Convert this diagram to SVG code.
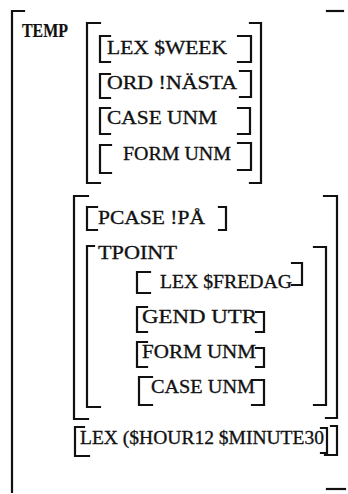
<svg xmlns="http://www.w3.org/2000/svg" width="348" height="494" viewBox="0 0 348 494">
<style>
.b{fill:none;stroke:#111;stroke-width:2.2;stroke-linecap:square}
text{font-family:"Liberation Serif","Times New Roman",serif;fill:#111;stroke:#111;stroke-width:0.3;font-size:18px}
.h{font-size:19px;font-weight:bold;stroke-width:0.2}
</style>
<rect width="348" height="494" fill="#fff"/>
<g id="connectors"/>
<g id="temp">
<path class="b" d="M24,11 H12 V492"/>
<path class="b" d="M327,11 H343"/>
<path class="b" d="M327,489 H345"/>
<text class="h" x="22" y="37" textLength="46" lengthAdjust="spacingAndGlyphs">TEMP</text>
</g>
<g id="group1">
<path class="b" d="M100,23 H87 V183 H100"/>
<path class="b" d="M250,23 H261 V183 H250"/>
</g>
<g id="lex-week">
<path class="b" d="M110,36 H100 V62 H110"/>
<text x="107" y="54" textLength="120" lengthAdjust="spacingAndGlyphs">LEX $WEEK</text>
<path class="b" d="M238,36 H251 V62 H238"/>
</g>
<g id="ord-nasta">
<path class="b" d="M110,74 H100 V98 H110"/>
<text x="107" y="89" textLength="130" lengthAdjust="spacingAndGlyphs">ORD !NÄSTA</text>
<path class="b" d="M240,71 H251 V97 H240"/>
</g>
<g id="case-unm-1">
<path class="b" d="M110,108 H100 V134 H110"/>
<text x="107" y="124" textLength="110" lengthAdjust="spacingAndGlyphs">CASE UNM</text>
<path class="b" d="M238,108 H250 V134 H238"/>
</g>
<g id="form-unm-1">
<path class="b" d="M111,145 H100 V173 H111"/>
<text x="123" y="160" textLength="108" lengthAdjust="spacingAndGlyphs">FORM UNM</text>
<path class="b" d="M238,143 H251 V170 H238"/>
</g>
<g id="group2">
<path class="b" d="M88,196 H74 V419 H88"/>
<path class="b" d="M324,196 H337 V418 H326"/>
</g>
<g id="pcase">
<path class="b" d="M97,207 H87 V230 H97"/>
<text x="98" y="224" textLength="107" lengthAdjust="spacingAndGlyphs">PCASE !PÅ</text>
<path class="b" d="M219,207 H226 V230 H219"/>
</g>
<g id="tpoint">
<path class="b" d="M94,246 H87 V407 H100"/>
<text x="98" y="259" textLength="79" lengthAdjust="spacingAndGlyphs">TPOINT</text>
<path class="b" d="M314,247 H326 V405 H314"/>
</g>
<g id="lex-fredag">
<path class="b" d="M150,272 H137 V293 H150"/>
<text x="160" y="288" textLength="132" lengthAdjust="spacingAndGlyphs">LEX $FREDAG</text>
<path class="b" d="M292,263 H302 V285 H292"/>
</g>
<g id="gend-utr">
<path class="b" d="M147,307 H137 V332 H147"/>
<text x="142" y="323" textLength="115" lengthAdjust="spacingAndGlyphs">GEND UTR</text>
<path class="b" d="M256,312 H264 V332 H256"/>
</g>
<g id="form-unm-2">
<path class="b" d="M147,342 H137 V367 H147"/>
<text x="142" y="358" textLength="114" lengthAdjust="spacingAndGlyphs">FORM UNM</text>
<path class="b" d="M256,348 H264 V367 H256"/>
</g>
<g id="case-unm-2">
<path class="b" d="M152,377 H139 V405 H152"/>
<text x="151" y="393" textLength="104" lengthAdjust="spacingAndGlyphs">CASE UNM</text>
<path class="b" d="M252,380 H264 V405 H252"/>
</g>
<g id="lex-hour">
<path class="b" d="M84,427 H75 V456 H89"/>
<text x="80" y="444" textLength="244" lengthAdjust="spacingAndGlyphs">LEX ($HOUR12 $MINUTE30</text>
<path class="b" d="M321,428 H327 V453 H321"/>
<path class="b" d="M331,426 H337 V455 H325"/>
</g>
</svg>
